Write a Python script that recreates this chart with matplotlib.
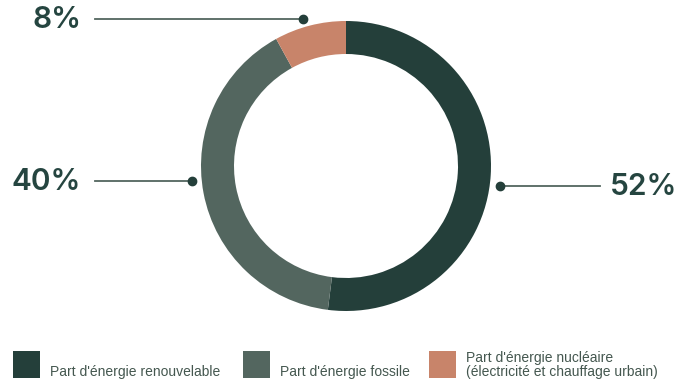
import matplotlib.pyplot as plt
from matplotlib.patches import Rectangle

plt.rcParams['font.family'] = ['Liberation Sans', 'DejaVu Sans']

# Data
categories = ["Part d'énergie renouvelable", "Part d'énergie fossile",
              "Part d'énergie nucléaire\n(électricité et chauffage urbain)"]
values = [52, 40, 8]
labels = ["52%", "40%", "8%"]
colors = ["#243f3a", "#53665f", "#c8846a"]
text_color = "#254540"

W, H = 694, 381
fig = plt.figure(figsize=(W / 100, H / 100), dpi=100)
ax = fig.add_axes([0, 0, 1, 1])

# donut, pixel coordinates (y flipped)
cx, cy, r = 346, H - 166, 145
ax.pie(values, colors=colors, startangle=90, counterclock=False,
       center=(cx, cy), radius=r, frame=True,
       wedgeprops=dict(width=33, linewidth=0))
ax.set_xlim(0, W)
ax.set_ylim(0, H)
ax.set_aspect('equal')
ax.axis('off')

# callouts: (text x, text y, line start x, dot x, ha)
callouts = [
    (677, H - 187, 600, 500, 'right'),
    (12, H - 182, 95, 192, 'left'),
    (33, H - 20, 95, 303, 'left'),
]
for lab, (tx, ty, x0, x1, ha) in zip(labels, callouts):
    ax.plot([x0, x1], [ty + 1, ty + 1], color="#53665f", lw=1.3)
    ax.plot([x1], [ty + 1], 'o', color=colors[0], ms=6)
    ax.text(tx, ty, lab, ha=ha, va='center', fontsize=21.5, color=text_color,
            fontweight='semibold', family=['Inter', 'DejaVu Sans'])

# legend
leg_x = [13, 243, 429]
for x, c, name in zip(leg_x, colors, categories):
    ax.add_patch(Rectangle((x, H - 378), 27, 27, color=c, lw=0))
    ax.text(x + 37, H - 376, name, ha='left', va='baseline', fontsize=10,
            color="#44574f", linespacing=1.0)

fig.savefig("out.png", dpi=100)
